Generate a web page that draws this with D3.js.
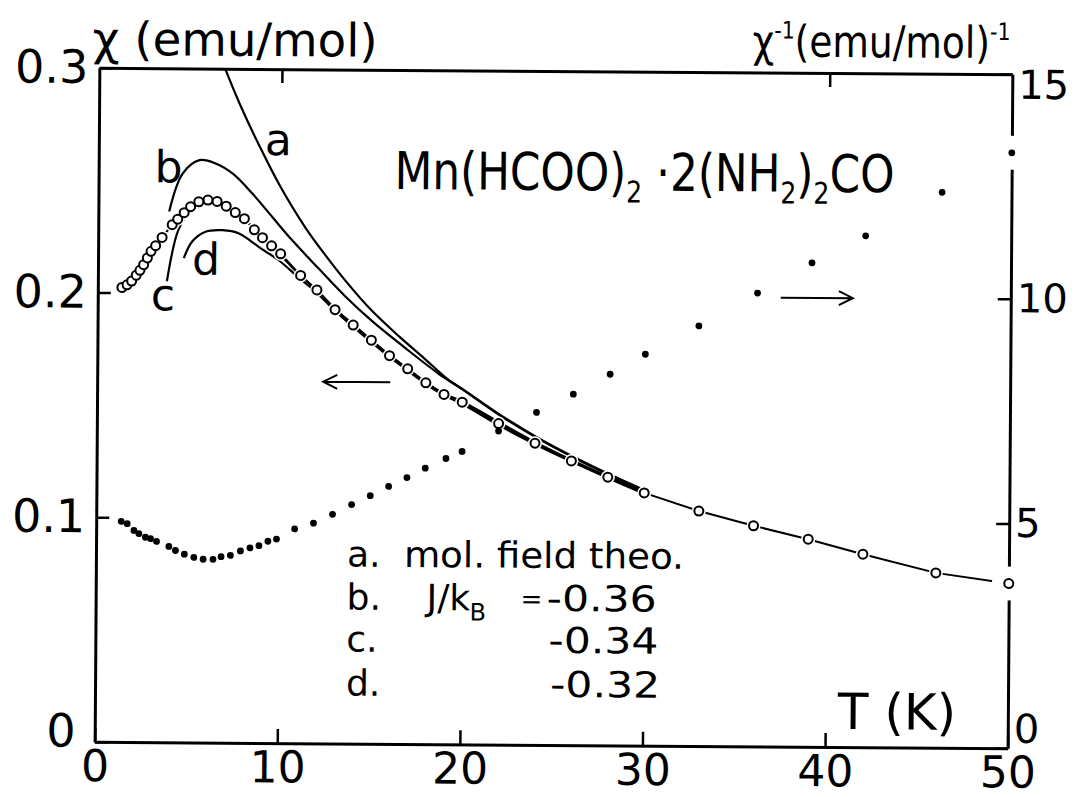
<!DOCTYPE html>
<html>
<head>
<meta charset="utf-8">
<script src="https://cdn.jsdelivr.net/npm/d3@7"></script>
<style>
  body { margin: 0; background: #fff; }
  text { font-family: "DejaVu Sans", sans-serif; fill: #000; }
</style>
</head>
<body>
<script>
'use strict';
// chi (emu/mol), open circles, left axis
let chiT = [1.32, 1.6, 1.85, 2.1, 2.3, 2.5, 2.7, 2.9, 3.15, 3.5, 4.05, 4.35, 4.7, 5.05, 5.5, 6.0, 6.5, 7.0, 7.5, 8.0, 8.55, 9.0, 9.5, 10.0,
  11.1, 12.0, 13.0, 14.0, 15.0, 16.0, 17.0, 18.0, 19.0, 20.0, 22, 24, 26, 28, 30, 33, 36, 39, 42, 46, 50];
let chiV = [0.2023, 0.2035, 0.2052, 0.2078, 0.2100, 0.2125, 0.2155, 0.2185, 0.2210, 0.2247, 0.2304, 0.2329, 0.2358, 0.2385, 0.2407, 0.2415,
  0.2409, 0.2388, 0.2360, 0.2333, 0.2284, 0.2249, 0.2213, 0.2178, 0.2082, 0.2018, 0.1931, 0.1863, 0.1796, 0.1728, 0.1670, 0.1608,
  0.1557, 0.1523, 0.1429, 0.1343, 0.1265, 0.1194, 0.1125, 0.1046, 0.0982, 0.0924, 0.0859, 0.0778, 0.0733];

// 1/chi (emu/mol)^-1, filled dots, right axis
let invT = [1.37, 1.7, 2.07, 2.34, 2.7, 2.98, 3.31, 3.99, 4.35, 4.84, 5.36, 5.87, 6.41, 6.85, 7.36, 7.91, 8.43, 8.92, 9.41, 9.88,
  10.87, 11.9, 12.94, 13.98, 15, 16, 17, 18, 19.13, 20.01, 22, 24.07, 26.08, 28.09, 30.01, 32.93, 36.13, 39.1, 42.03, 46.2, 50];
let invV = [4.91, 4.86, 4.71, 4.64, 4.56, 4.53, 4.47, 4.36, 4.27, 4.19, 4.12, 4.08, 4.08, 4.14, 4.17, 4.27, 4.34, 4.39, 4.49, 4.54,
  4.77, 4.90, 5.10, 5.32, 5.52, 5.73, 5.93, 6.14, 6.36, 6.52, 6.98, 7.40, 7.81, 8.26, 8.71, 9.35, 10.09, 10.77, 11.38, 12.36, 13.25];

// theory curves
let aT = [6.89, 7.71, 8.81, 9.91, 11.37, 12.5, 13.6, 14.9, 16.5, 17.93, 19.24, 20, 22, 24, 26, 28, 30];
let aV = [0.300, 0.2842, 0.2655, 0.2484, 0.2292, 0.2168, 0.2056, 0.1937, 0.1815, 0.1715, 0.1622, 0.1582, 0.1472, 0.1374, 0.1288, 0.1210, 0.1138];
let bT = [3.88, 4.61, 5.52, 6.43, 7.35, 8.44, 9.54, 10.64, 12.1, 13.56, 15.02, 16.85, 18.68, 20, 22, 24, 26, 28, 30];
let bV = [0.2363, 0.2533, 0.2592, 0.2577, 0.2533, 0.2444, 0.234, 0.2237, 0.2112, 0.1990, 0.1882, 0.1763, 0.1650, 0.1580, 0.1469, 0.1371, 0.1285, 0.1207, 0.1135];
let cT = [3.78, 4.39, 5.0, 5.6, 6.2, 7, 8, 9, 10, 11, 12, 13, 14, 15, 16, 17, 18, 19, 20, 22, 24, 26, 28, 30];
let cV = [0.2052, 0.2281, 0.2362, 0.2400, 0.2410, 0.2385, 0.2330, 0.2250, 0.2172, 0.2088, 0.2016, 0.1935, 0.1865, 0.1797, 0.1730, 0.1670,
  0.1610, 0.1560, 0.1526, 0.1436, 0.1348, 0.1269, 0.1197, 0.1127];
let dT = [4.7, 5.15, 5.88, 6.8, 7.71, 8.81, 9.91, 11, 12, 13, 14, 15, 16, 17, 18, 19, 20, 22, 24, 26, 28, 30];
let dV = [0.2156, 0.2230, 0.2274, 0.2281, 0.2267, 0.2207, 0.2148, 0.2072, 0.2005, 0.1925, 0.1855, 0.1788, 0.1722, 0.1662, 0.1603, 0.1553,
  0.1515, 0.1422, 0.1338, 0.1262, 0.1190, 0.1121];

let xTicks = [0, 10, 20, 30, 40, 50];
let leftTicks = [0, 0.1, 0.2, 0.3];
let rightTicks = [0, 5, 10, 15];

let svg = d3.select("body").append("svg")
  .attr("width", 1075)
  .attr("height", 797);

// the scanned figure is a little tilted
let g = svg.append("g").attr("transform", "rotate(0.4,553,408)");

let x = d3.scaleLinear().domain([0, 50]).range([97, 1010]);
let yL = d3.scaleLinear().domain([0, 0.3]).range([745, 71]);
let yR = d3.scaleLinear().domain([0, 15]).range([745, 71]);

function styleAxis(ax, size) {
  ax.attr("font-family", null).attr("font-size", size);
  ax.select(".domain").attr("stroke-width", 3);
  ax.selectAll(".tick line").attr("stroke-width", 2.5);
  ax.selectAll(".tick text").attr("fill", "#000");
}

let axBottom = g.append("g")
  .attr("transform", "translate(0," + yL(0) + ")")
  .call(d3.axisBottom(x).tickValues(xTicks).tickSize(-14).tickSizeOuter(0).tickPadding(8));
styleAxis(axBottom, 44);

let axTop = g.append("g")
  .attr("transform", "translate(0," + yL(0.3) + ")")
  .call(d3.axisTop(x).tickValues([10, 40]).tickSize(-14).tickSizeOuter(0).tickFormat(""));
styleAxis(axTop, 10);

let axLeft = g.append("g")
  .attr("transform", "translate(" + x(0) + ",0)")
  .call(d3.axisLeft(yL).tickValues(leftTicks).tickSize(-13).tickSizeOuter(0).tickPadding(11)
    .tickFormat(function(d){ return d === 0 ? "0" : d.toFixed(1); }));
styleAxis(axLeft, 46);
axLeft.selectAll(".tick text").filter(function(d){ return d === 0; })
  .attr("dx", -8).attr("dy", "0.1em");

let axRight = g.append("g")
  .attr("transform", "translate(" + x(50) + ",0)")
  .call(d3.axisRight(yR).tickValues(rightTicks).tickSize(-13).tickSizeOuter(0).tickPadding(6));
styleAxis(axRight, 40);
axRight.selectAll(".tick text").filter(function(d){ return d === 15; }).attr("dy", "0.6em");
axRight.selectAll(".tick text").filter(function(d){ return d === 0; }).attr("dy", "-0.15em");

// curves
let line = d3.line()
  .x(function(d){ return x(d[0]); })
  .y(function(d){ return yL(d[1]); })
  .curve(d3.curveCatmullRom);

[[aT, aV], [bT, bV], [cT, cV], [dT, dV]].forEach(function(c){
  g.append("path")
    .datum(d3.zip(c[0], c[1]))
    .attr("d", line)
    .attr("fill", "none")
    .attr("stroke", "#000")
    .attr("stroke-width", 2.2);
});

let chiData = d3.zip(chiT, chiV);
g.append("path")
  .datum(chiData)
  .attr("d", d3.line().x(function(d){ return x(d[0]); }).y(function(d){ return yL(d[1]); }))
  .attr("fill", "none")
  .attr("stroke", "#000")
  .attr("stroke-width", 2);

// white gaps round the markers
g.selectAll("circle.halo")
  .data(chiData)
  .enter().append("circle")
    .attr("class", "halo")
    .attr("cx", function(d){ return x(d[0]); })
    .attr("cy", function(d){ return yL(d[1]); })
    .attr("r", function(d){ return d[0] >= 49 ? 17 : 7; })
    .attr("fill", "#fff");

g.selectAll("circle.chi")
  .data(chiData)
  .enter().append("circle")
    .attr("class", "chi")
    .attr("cx", function(d){ return x(d[0]); })
    .attr("cy", function(d){ return yL(d[1]); })
    .attr("r", 4.5)
    .attr("fill", "#fff")
    .attr("stroke", "#000")
    .attr("stroke-width", 2);

let invData = d3.zip(invT, invV);
g.selectAll("circle.invhalo")
  .data(invData.filter(function(d){ return d[0] >= 49; }))
  .enter().append("circle")
    .attr("class", "invhalo")
    .attr("cx", function(d){ return x(d[0]); })
    .attr("cy", function(d){ return yR(d[1]); })
    .attr("r", 17)
    .attr("fill", "#fff");

g.selectAll("circle.inv")
  .data(invData)
  .enter().append("circle")
    .attr("class", "inv")
    .attr("cx", function(d){ return x(d[0]); })
    .attr("cy", function(d){ return yR(d[1]); })
    .attr("r", 3.4)
    .attr("fill", "#000");

// arrows
function arrow(x1, x2, y, dir) {
  let tip = dir < 0 ? x1 : x2;
  g.append("path")
    .attr("d", "M" + x1 + "," + y + "H" + x2 +
      "M" + (tip - dir * 14) + "," + (y - 7) + "L" + tip + "," + y + "L" + (tip - dir * 14) + "," + (y + 7))
    .attr("fill", "none")
    .attr("stroke", "#000")
    .attr("stroke-width", 2);
}
arrow(x(12.38), x(16.05), yL(0.161), -1);
arrow(x(37.4), x(41.35), yR(9.99), 1);

// stretch a text horizontally to a width, keeping its left (or right) edge
function fit(sel, w, fromRight) {
  let b = sel.node().getBBox();
  let px = fromRight ? b.x + b.width : b.x;
  sel.attr("transform", "translate(" + px + ",0) scale(" + (w / b.width) + ",1) translate(" + (-px) + ",0)");
}

// titles
let lt = g.append("text").attr("x", 90).attr("y", 58).attr("font-size", 46).text("\u03c7 (emu/mol)");
fit(lt, 285);

let rt = g.append("text").attr("x", 750).attr("y", 55).attr("font-size", 44);
rt.append("tspan").text("\u03c7");
rt.append("tspan").attr("font-size", 24).attr("dy", -18).text("-1");
rt.append("tspan").attr("dy", 18).text("(emu/mol)");
rt.append("tspan").attr("font-size", 24).attr("dy", -18).text("-1");
fit(rt, 258);

let f = g.append("text").attr("x", 393).attr("y", 190).attr("font-size", 52);
f.append("tspan").text("Mn(HCOO)");
f.append("tspan").attr("font-size", 30).attr("dy", 12).text("2");
f.append("tspan").attr("dy", -12).text(" \u00b72(NH");
f.append("tspan").attr("font-size", 30).attr("dy", 12).text("2");
f.append("tspan").attr("dy", -12).text(")");
f.append("tspan").attr("font-size", 30).attr("dy", 12).text("2");
f.append("tspan").attr("dy", -12).text("CO");
fit(f, 500);

g.append("text").attr("x", 840).attr("y", 727).attr("font-size", 50).text("T (K)");

// curve labels
g.append("text").attr("x", 263).attr("y", 157).attr("font-size", 44).text("a");
g.append("text").attr("x", 153).attr("y", 185).attr("font-size", 44).text("b");
g.append("text").attr("x", 150).attr("y", 313).attr("font-size", 44).text("c");
g.append("text").attr("x", 191).attr("y", 277).attr("font-size", 44).text("d");

// legend
let keys = ["a.", "b.", "c.", "d."];
let keyY = [568, 611, 653, 697];
keys.forEach(function(k, i){
  g.append("text").attr("x", 348).attr("y", keyY[i]).attr("font-size", 36).text(k);
});
let mf = g.append("text").attr("x", 405).attr("y", keyY[0]).attr("font-size", 36).text("mol. field theo.");
fit(mf, 280);
g.append("text").attr("x", 428).attr("y", keyY[1]).attr("font-size", 36).text("J/k");
g.append("text").attr("x", 471).attr("y", keyY[1] + 10).attr("font-size", 24).text("B");
g.append("text").attr("x", 522).attr("y", keyY[1] - 3).attr("font-size", 26).text("=");
let vals = ["-0.36", "-0.34", "-0.32"];
let valX = [658, 660, 662];
vals.forEach(function(v, i){
  let t = g.append("text").attr("x", valX[i]).attr("y", keyY[i + 1]).attr("font-size", 36)
    .attr("text-anchor", "end").text(v);
  fit(t, 110, true);
});
</script>
</body>
</html>
